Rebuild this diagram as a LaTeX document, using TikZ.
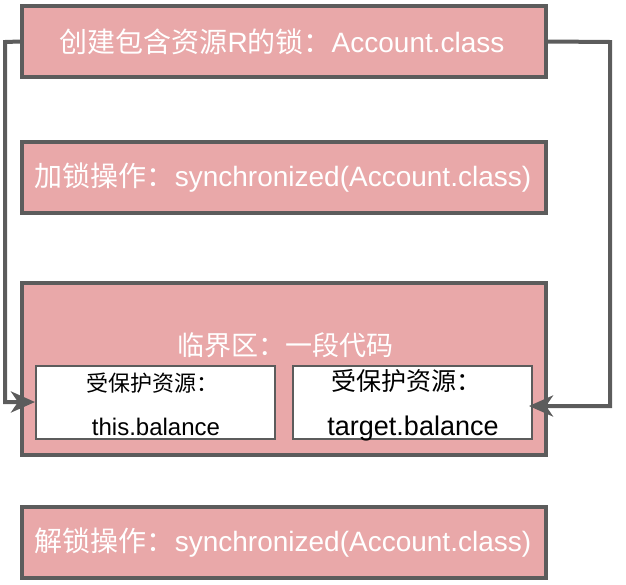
\documentclass[tikz,border=0pt]{standalone}
\usepackage{fontspec}
\setmainfont{Liberation Sans}
\newfontfamily\cjk{Noto Sans CJK SC}
\usetikzlibrary{arrows.meta}
\definecolor{pinkfill}{HTML}{E9A8A9}
\definecolor{edgegray}{HTML}{5C5C5C}
\tikzset{
  bigbox/.style={draw=edgegray, line width=4pt, fill=pinkfill, inner sep=0pt},
  innerbox/.style={draw=edgegray, line width=2pt, fill=white, inner sep=0pt},
  boxtext/.style={text=white, font=\fontsize{28}{32}\selectfont, inner sep=0pt},
  link/.style={draw=edgegray, line width=4pt, -{Stealth[length=24pt,width=21pt,inset=7pt]}},
}
\begin{document}
\begin{tikzpicture}[x=1pt,y=-1pt]
\useasboundingbox (0,0) rectangle (626,584);
% outer boxes
\node[bigbox, minimum width=524pt, minimum height=71pt] (b1) at (284,41.5) {};
\node[boxtext] (t1) at (282,42) {\cjk 创建包含资源\rmfamily R\cjk 的锁：\rmfamily Account.class};

\node[bigbox, minimum width=524pt, minimum height=71pt] (b2) at (284,177.5) {};
\node[boxtext] (t2) at (283,178) {\cjk 加锁操作：\rmfamily synchronized(Account.class)};

\node[bigbox, minimum width=524pt, minimum height=172pt] (b3) at (284,369) {};
\node[boxtext, font=\fontsize{27}{30}\selectfont] (t3) at (285,345) {\cjk 临界区：一段代码};

\node[bigbox, minimum width=524pt, minimum height=71pt] (b4) at (284,542.5) {};
\node[boxtext] (t4) at (283,543) {\cjk 解锁操作：\rmfamily synchronized(Account.class)};

% inner boxes
\node[innerbox, minimum width=239pt, minimum height=73pt] (ib1) at (155.5,402.5) {};
\node[innerbox, minimum width=239pt, minimum height=73pt] (ib2) at (412.5,402.5) {};
\node[inner sep=0pt, font=\fontsize{22}{26}\selectfont] (l1) at (152,383) {\cjk 受保护资源：};
\node[inner sep=0pt, font=\fontsize{24}{28}\selectfont] (l2) at (156,427) {this.balance};
\node[inner sep=0pt, font=\fontsize{25}{28}\selectfont] (r1) at (406,381) {\cjk 受保护资源：};
\node[inner sep=0pt, font=\fontsize{27}{30}\selectfont] (r2) at (413,429) {target.balance};

% connectors
\coordinate (lc1) at (5,42);
\coordinate (lc2) at (5,402);
\coordinate (rc1) at (610,42);
\coordinate (rc2) at (610,406);
\draw[link] (b1.west) -- (lc1) -- (lc2) -- (ib1.west |- lc2);
\draw[link] (b1.east) -- (rc1) -- (rc2) -- ([xshift=-4pt]ib2.east |- rc2);
\end{tikzpicture}
\end{document}
